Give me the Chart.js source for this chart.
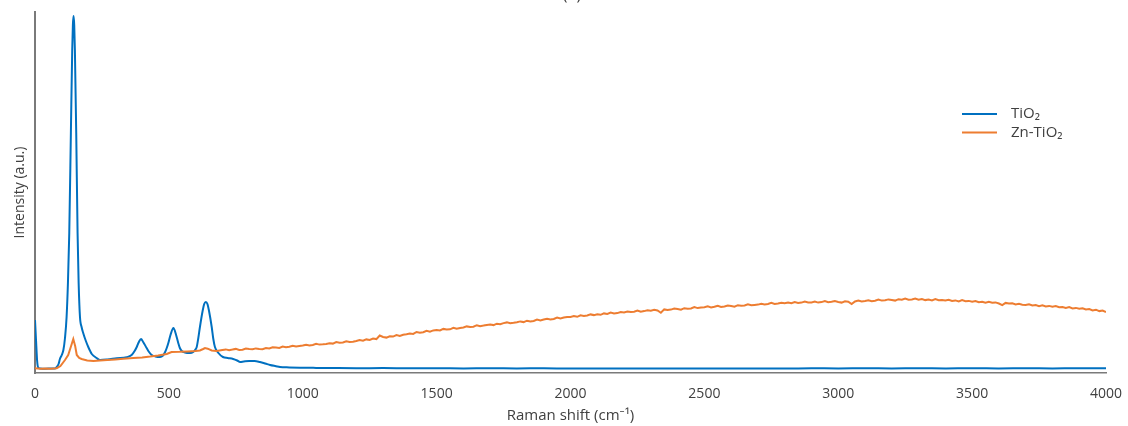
<!DOCTYPE html>
<html lang="en">
<head>
<meta charset="UTF-8">
<title>Raman spectra - TiO2 / Zn-TiO2</title>
<script src="https://cdn.jsdelivr.net/npm/chart.js"></script>
<style>
    html, body { margin: 0; padding: 0; background: #fff; }
    #wrap { width: 1128px; height: 426px; }
</style>
</head>
<body>
<div id="wrap"><canvas id="ramanChart" width="1128" height="426"></canvas></div>

<script>
    // TiO2 spectrum (Raman shift in cm-1, intensity in a.u.)
    const tio2Shift = [
        0, 4, 8, 12, 20, 40, 60, 75, 81, 88,
        93, 100, 106, 112, 118, 123, 128, 134, 139, 141.5,
        144, 146.5, 149, 154, 159, 163, 168, 174, 180, 190,
        199, 206, 212, 230, 243, 270, 305, 342, 361, 372,
        380, 388, 396, 404, 417, 426, 436, 450, 467, 478,
        486, 492, 498, 506, 517, 527, 535, 541, 548, 560,
        579, 591, 598, 604, 610, 616, 626, 632, 638, 644,
        650, 660, 666, 672, 685, 702, 720, 740, 755, 766,
        780, 800, 820, 840, 860, 878, 900, 915, 950, 990,
        1050, 1100, 1200, 1300, 1400, 1500, 1600, 1700, 1800, 1900,
        2000, 2100, 2200, 2300, 2400, 2500, 2600, 2700, 2800, 2900,
        3000, 3100, 3200, 3300, 3400, 3500, 3600, 3700, 3800, 3900,
        4000
    ];
    const tio2Intensity = [
        53, 32, 12, 5.5, 4.5, 4.3, 4.5, 4.6, 6, 9,
        14, 18, 23, 35, 56, 90, 140, 240, 323, 348,
        357, 348, 323, 240, 140, 90, 56, 46, 40, 32,
        26, 22, 19, 15, 13, 13.5, 14.7, 15.7, 18, 22,
        26, 31, 34, 31, 25, 21, 18, 16.5, 16, 17.5,
        21, 25, 30, 38, 45, 38, 30, 25, 22, 20.5,
        20, 21, 23, 26, 35, 46, 62, 69, 71, 69,
        62, 46, 34, 26, 20, 16, 15, 14, 12.5, 11,
        11.5, 12, 12, 11, 9.5, 8, 6.8, 6, 5.6, 5.3,
        5.1, 5, 4.8, 4.9, 4.7, 4.8, 4.6, 4.7, 4.6, 4.7,
        4.5, 4.6, 4.4, 4.6, 4.5, 4.6, 4.5, 4.6, 4.5, 4.7,
        4.6, 4.7, 4.6, 4.8, 4.6, 4.7, 4.6, 4.7, 4.6, 4.7,
        4.7
    ];

    // Zn-TiO2 spectrum
    const znShift = [
        0, 20, 40, 60, 81, 95, 112, 124, 136, 143,
        150, 156, 165, 174, 195, 218, 243, 270, 300, 330,
        367, 400, 430, 460, 492, 510, 540, 570, 600, 616,
        628, 635, 645, 660, 678,
        700, 712.5, 725, 737.5, 750, 762.5, 775, 787.5,
        800, 812.5, 825, 837.5, 850, 862.5, 875, 887.5,
        900, 912.5, 925, 937.5, 950, 962.5, 975, 987.5,
        1000, 1012.5, 1025, 1037.5, 1050, 1062.5, 1075, 1087.5,
        1100, 1112.5, 1125, 1137.5, 1150, 1162.5, 1175, 1187.5,
        1200, 1212.5, 1225, 1237.5, 1250, 1262.5, 1275, 1287.5,
        1300, 1312.5, 1325, 1337.5, 1350, 1362.5, 1375, 1387.5,
        1400, 1412.5, 1425, 1437.5, 1450, 1462.5, 1475, 1487.5,
        1500, 1512.5, 1525, 1537.5, 1550, 1562.5, 1575, 1587.5,
        1600, 1612.5, 1625, 1637.5, 1650, 1662.5, 1675, 1687.5,
        1700, 1712.5, 1725, 1737.5, 1750, 1762.5, 1775, 1787.5,
        1800, 1812.5, 1825, 1837.5, 1850, 1862.5, 1875, 1887.5,
        1900, 1912.5, 1925, 1937.5, 1950, 1962.5, 1975, 1987.5,
        2000, 2012.5, 2025, 2037.5, 2050, 2062.5, 2075, 2087.5,
        2100, 2112.5, 2125, 2137.5, 2150, 2162.5, 2175, 2187.5,
        2200, 2212.5, 2225, 2237.5, 2250, 2262.5, 2275, 2287.5,
        2300, 2312.5, 2325, 2337.5, 2350, 2362.5, 2375, 2387.5,
        2400, 2412.5, 2425, 2437.5, 2450, 2462.5, 2475, 2487.5,
        2500, 2512.5, 2525, 2537.5, 2550, 2562.5, 2575, 2587.5,
        2600, 2612.5, 2625, 2637.5, 2650, 2662.5, 2675, 2687.5,
        2700, 2712.5, 2725, 2737.5, 2750, 2762.5, 2775, 2787.5,
        2800, 2812.5, 2825, 2837.5, 2850, 2862.5, 2875, 2887.5,
        2900, 2912.5, 2925, 2937.5, 2950, 2962.5, 2975, 2987.5,
        3000, 3012.5, 3025, 3037.5, 3050, 3062.5, 3075, 3087.5,
        3100, 3112.5, 3125, 3137.5, 3150, 3162.5, 3175, 3187.5,
        3200, 3212.5, 3225, 3237.5, 3250, 3262.5, 3275, 3287.5,
        3300, 3312.5, 3325, 3337.5, 3350, 3362.5, 3375, 3387.5,
        3400, 3412.5, 3425, 3437.5, 3450, 3462.5, 3475, 3487.5,
        3500, 3512.5, 3525, 3537.5, 3550, 3562.5, 3575, 3587.5,
        3600, 3612.5, 3625, 3637.5, 3650, 3662.5, 3675, 3687.5,
        3700, 3712.5, 3725, 3737.5, 3750, 3762.5, 3775, 3787.5,
        3800, 3812.5, 3825, 3837.5, 3850, 3862.5, 3875, 3887.5,
        3900, 3912.5, 3925, 3937.5, 3950, 3962.5, 3975, 3987.5,
        4000
    ];
    const znIntensity = [
        4.7, 4.3, 4.5, 4.2, 4.8, 7, 13, 18, 28, 34,
        27, 18, 15, 14, 12.5, 12, 12.5, 13, 13.6, 14.2,
        15, 15.6, 16.4, 17.5, 19, 21, 21.2, 21.6, 22, 22.5,
        24, 25, 24.3, 22.6, 22,
        23, 23.6, 22.8, 23.4, 24.1, 23, 23.3, 24.4,
        24, 23.7, 24.6, 24.1, 23.8, 25, 24.5, 25.7,
        25.6, 25.1, 26.4, 25.8, 26.2, 27.3, 26.5, 27,
        27.5, 28.3, 27.6, 28, 29.2, 28.4, 28.7, 29.1,
        29.8, 29.4, 30.9, 30.2, 30.5, 31.8, 31, 31.3,
        32, 32.9, 32.3, 33.6, 33.1, 34.4, 33.9, 37.5,
        36, 35.4, 36.7, 36.4, 37.9, 37.1, 38.3, 38.8,
        39.5, 39.1, 41, 40.3, 40.8, 42.2, 41.4, 42.6,
        43, 42.6, 44.1, 43.4, 43.7, 45.2, 44.3, 44.9,
        45.5, 46.6, 45.9, 46.3, 47.8, 46.8, 47.4, 48.1,
        48.5, 47.9, 49.3, 48.8, 49.9, 50.6, 49.7, 50.2,
        50.8, 51.6, 50.9, 52.3, 51.6, 52, 53.4, 52.6,
        53.5, 54.3, 53.6, 54, 55.5, 54.6, 55.4, 56.1,
        56, 56.9, 56.2, 57.7, 57.1, 57.5, 58.6, 57.9,
        58.8, 58.2, 59.6, 59.1, 60.4, 59.5, 59.9, 61,
        60.6, 61.5, 60.9, 61.3, 62.4, 61.2, 61.9, 62.7,
        62.3, 63.2, 62.5, 60.2, 63.6, 62.9, 63.4, 64.5,
        64, 63.3, 64.8, 64.2, 64.6, 65.9, 64.9, 65.4,
        65.8, 66.6, 65.6, 66.2, 67.3, 66.1, 66.5, 67.5,
        67, 66.3, 67.8, 67.2, 67.5, 68.6, 67.7, 68.1,
        68.4, 69.3, 68.6, 69, 70.2, 69.1, 69.5, 70.3,
        69.8, 70.5, 69.7, 70.9, 70.1, 70.4, 71.5, 70.6,
        70.6, 71.4, 70.4, 70.9, 72, 70.8, 71.2, 71.9,
        71, 70.4, 71.7, 71.2, 68.9, 71.5, 72.4, 71.6,
        72, 72.7, 71.8, 72.3, 73.5, 72.4, 72.8, 73.6,
        73, 72.4, 73.8, 73.2, 74.4, 73.3, 73.6, 74.5,
        73.3, 74, 72.9, 73.5, 72.6, 73.9, 72.7, 73.1,
        72.5, 73.3, 72.1, 72.6, 71.6, 72.9, 71.8, 72.1,
        71.2, 72, 70.7, 71.3, 70.3, 71.1, 70.2, 70.6,
        69.5, 67.9, 70.1, 69.4, 69.8, 68.6, 69.2, 68.3,
        68, 68.8, 67.5, 67.9, 66.9, 67.7, 66.5, 67.1,
        66.2, 66.9, 65.7, 66, 65.1, 65.9, 64.6, 65.1,
        64.2, 64.8, 63.5, 63.9, 62.6, 63.3, 61.9, 62.5,
        61
    ];

    const xTickValues = [0, 500, 1000, 1500, 2000, 2500, 3000, 3500, 4000];

    const toPoints = (xs, ys) => xs.map((x, i) => ({ x: x, y: ys[i] }));

    const textColor = '#404040';
    const axisColor = '#7a7a7a';

    Chart.defaults.font.family = '"Open Sans", "Noto Sans", sans-serif';
    Chart.defaults.color = textColor;

    // legend drawn inside the plot + the panel letter cut at the top edge
    const insideLegend = {
        id: 'insideLegend',
        afterDraw(chart) {
            const ctx = chart.ctx;
            ctx.save();
            ctx.font = '15px "Open Sans", "Noto Sans", sans-serif';
            ctx.textBaseline = 'middle';
            ctx.textAlign = 'left';
            chart.data.datasets.forEach((ds, i) => {
                const y = 114 + i * 18.5;
                ctx.strokeStyle = ds.borderColor;
                ctx.lineWidth = 2;
                ctx.beginPath();
                ctx.moveTo(962, y);
                ctx.lineTo(997, y);
                ctx.stroke();
                ctx.fillStyle = textColor;
                ctx.fillText(ds.label, 1011, y);
            });
            ctx.font = '16px "Open Sans", "Noto Sans", sans-serif';
            ctx.textAlign = 'center';
            ctx.textBaseline = 'alphabetic';
            ctx.fillText('(a)', 572, 0);
            ctx.restore();
        }
    };

    new Chart(document.getElementById('ramanChart'), {
        type: 'line',
        data: {
            datasets: [
                {
                    label: 'TiO₂',
                    data: toPoints(tio2Shift, tio2Intensity),
                    borderColor: '#0070c0',
                    borderWidth: 2,
                    pointRadius: 0,
                    fill: false,
                    cubicInterpolationMode: 'monotone',
                    order: 1
                },
                {
                    label: 'Zn-TiO₂',
                    data: toPoints(znShift, znIntensity),
                    borderColor: '#ed7d31',
                    borderWidth: 2,
                    pointRadius: 0,
                    fill: false,
                    tension: 0,
                    order: 0
                }
            ]
        },
        options: {
            responsive: false,
            animation: false,
            devicePixelRatio: 1,
            layout: { padding: { top: 12, right: 22, left: 0, bottom: 0 } },
            plugins: {
                legend: { display: false },
                tooltip: { enabled: false }
            },
            scales: {
                x: {
                    type: 'linear',
                    min: 0,
                    max: 4000,
                    afterBuildTicks: (s) => { s.ticks = xTickValues.map(v => ({ value: v })); },
                    afterFit: (s) => {
                        s.height = 53;
                        s.paddingLeft = 0;
                        s.paddingRight = 0;
                    },
                    grid: { display: false, drawTicks: false },
                    border: { display: true, color: axisColor, width: 1.5 },
                    ticks: {
                        padding: 13,
                        maxRotation: 0,
                        font: { size: 14 },
                        color: textColor,
                        callback: (v) => String(v)
                    },
                    title: {
                        display: true,
                        text: 'Raman shift (cm⁻¹)',
                        font: { size: 15 },
                        color: textColor,
                        padding: { top: 0, bottom: 1 }
                    }
                },
                y: {
                    min: 0,
                    max: 361,
                    afterFit: (s) => { s.width = 35; },
                    grid: { display: false, drawTicks: false },
                    border: { display: true, color: axisColor, width: 2 },
                    ticks: { display: false },
                    title: {
                        display: true,
                        text: 'Intensity (a.u.)',
                        font: { size: 14 },
                        color: textColor,
                        padding: { top: 12, bottom: 0 }
                    }
                }
            }
        },
        plugins: [insideLegend]
    });
</script>
</body>
</html>
